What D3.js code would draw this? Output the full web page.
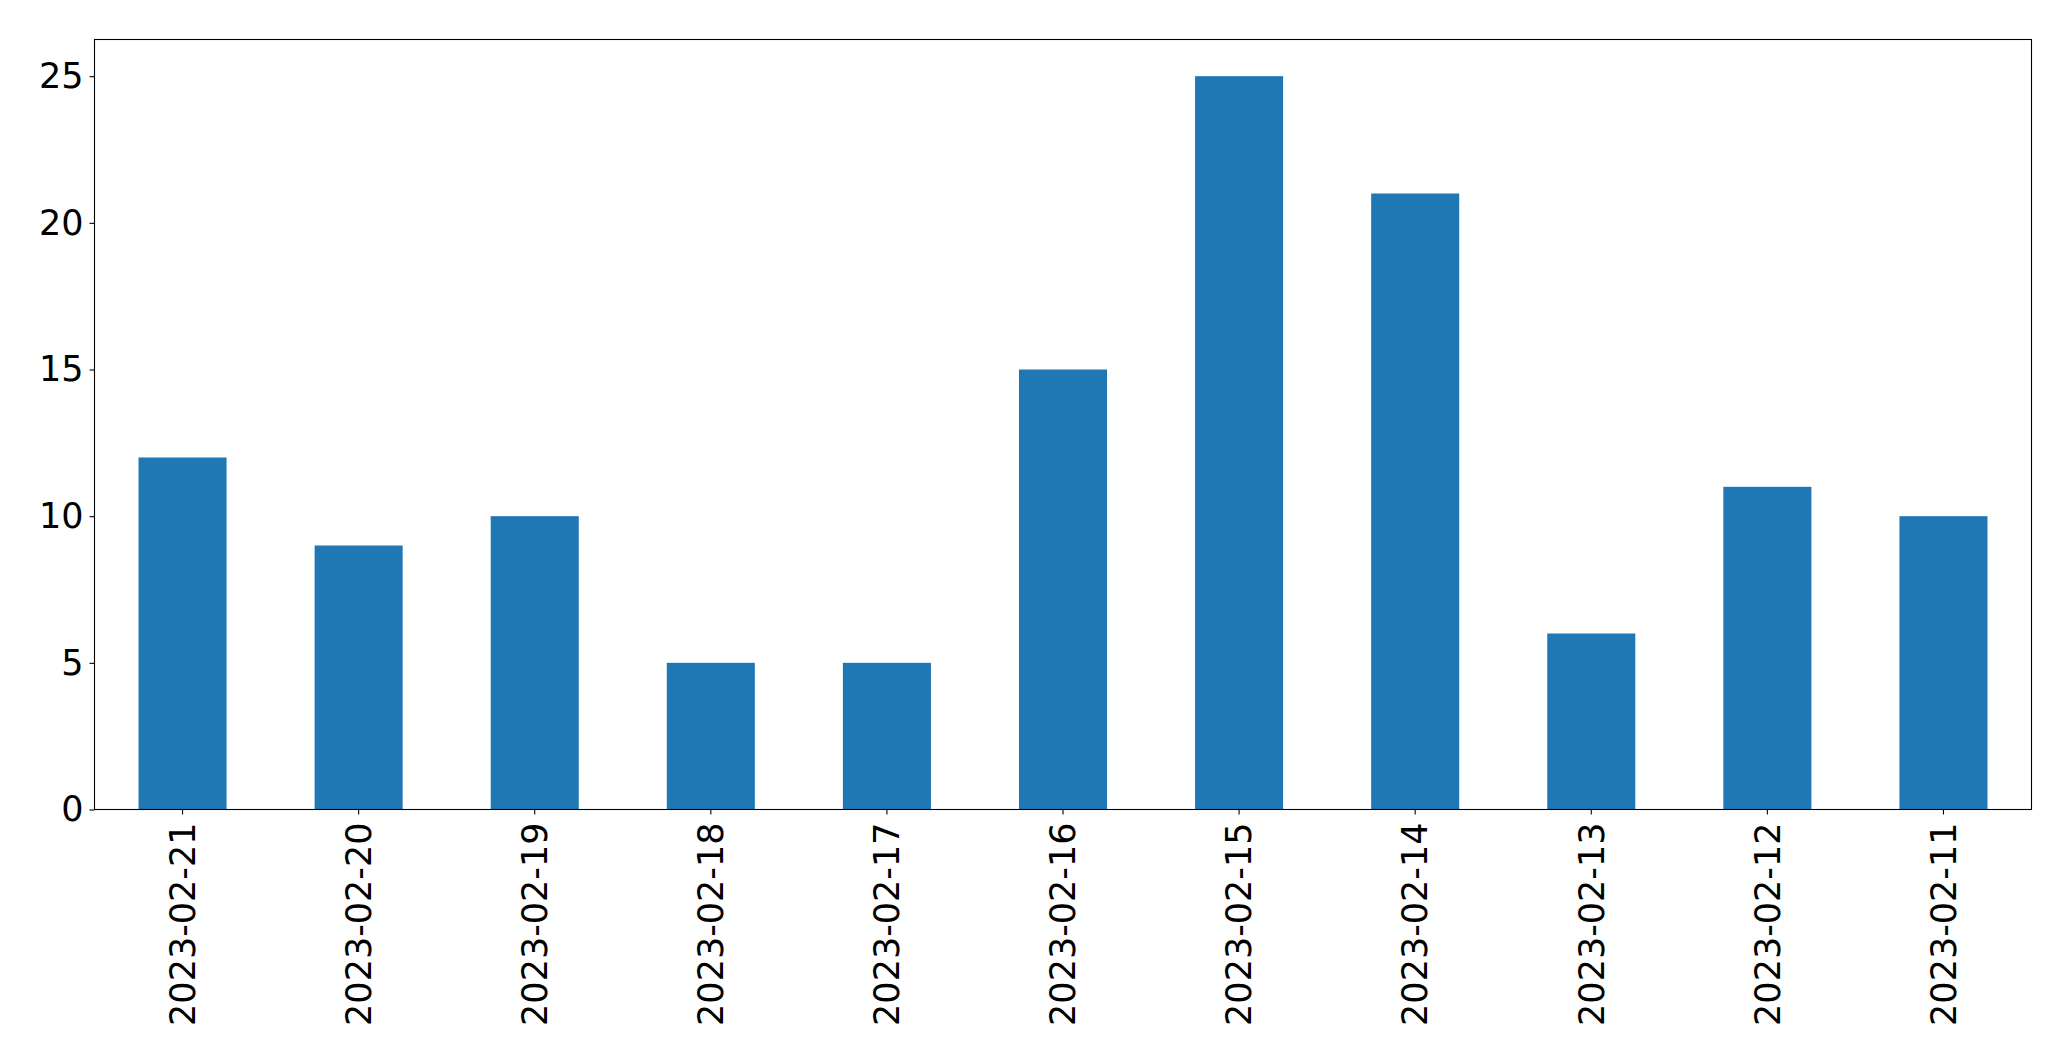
<!DOCTYPE html>
<html>
<head>
<meta charset="utf-8">
<script src="https://cdn.jsdelivr.net/npm/d3@7"></script>
<style>
  html, body { margin: 0; padding: 0; background: #fff; }
  svg { display: block; }
</style>
</head>
<body>
<script>
const categories = ["2023-02-21","2023-02-20","2023-02-19","2023-02-18","2023-02-17","2023-02-16","2023-02-15","2023-02-14","2023-02-13","2023-02-12","2023-02-11"];
const values = [12, 9, 10, 5, 5, 15, 25, 21, 6, 11, 10];
const yTicks = [0, 5, 10, 15, 20, 25];

const W = 2071, H = 1061;
const margin = {left: 94.5, right: W - 2031.5, top: 39.5, bottom: H - 809.5};
const iw = W - margin.left - margin.right;
const ih = H - margin.top - margin.bottom;

const svg = d3.select("body").append("svg").attr("width", W).attr("height", H);
const g = svg.append("g").attr("transform", `translate(${margin.left},${margin.top})`);

const x = d3.scaleBand().domain(categories).range([0, iw]).paddingInner(0.5).paddingOuter(0.25);
const y = d3.scaleLinear().domain([0, 26.25]).range([ih, 0]);

g.selectAll("rect.bar").data(categories).enter().append("rect")
  .attr("class", "bar")
  .attr("x", d => x(d))
  .attr("width", x.bandwidth())
  .attr("y", (d, i) => y(values[i]))
  .attr("height", (d, i) => y(0) - y(values[i]))
  .attr("fill", "#1f77b4");

const font = "'DejaVu Sans', sans-serif";

const yAxis = g.append("g").call(d3.axisLeft(y).tickValues(yTicks).tickSize(5).tickPadding(6).tickFormat(d3.format("d")));
yAxis.select(".domain").remove();
yAxis.selectAll("text").attr("font-family", font).attr("font-size", 35).attr("fill", "#000");
yAxis.selectAll("line").attr("stroke", "#000").attr("stroke-width", 1.1);

const xAxis = g.append("g").attr("transform", `translate(0,${ih})`)
  .call(d3.axisBottom(x).tickSize(5).tickPadding(8));
xAxis.select(".domain").remove();
xAxis.selectAll("line").attr("stroke", "#000").attr("stroke-width", 1.1);
xAxis.selectAll("text")
  .attr("font-family", font).attr("font-size", 35).attr("fill", "#000")
  .attr("text-anchor", "end")
  .attr("dy", "0.35em")
  .attr("transform", "translate(0,13) rotate(-90)")
  .attr("x", 0).attr("y", 0);

g.append("rect").attr("x", 0).attr("y", 0).attr("width", iw).attr("height", ih)
  .attr("fill", "none").attr("stroke", "#000").attr("stroke-width", 1.1);
</script>
</body>
</html>
